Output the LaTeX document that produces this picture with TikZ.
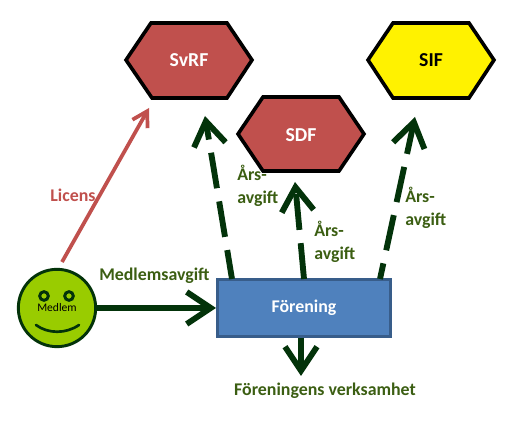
\documentclass[tikz,border=0pt]{standalone}
\usepackage{fontspec}
\setmainfont{Carlito}
\usetikzlibrary{arrows.meta}
\definecolor{arrowgreen}{HTML}{03330A}
\definecolor{labelgreen}{HTML}{3B5E12}
\definecolor{hexred}{HTML}{C0504D}
\definecolor{boxblue}{HTML}{4F81BD}
\definecolor{boxedge}{HTML}{385D8A}
\definecolor{face}{HTML}{99CC00}
\tikzset{
  x=0.75pt,y=-0.75pt,
  hexa/.style={draw=black,line width=2.7pt,line join=miter},
  hexlabel/.style={font=\bfseries\fontsize{14.8}{16}\selectfont,text=white},
  flow/.style={draw=arrowgreen,line width=4.4pt,-{Straight Barb[length=18pt,width=24pt,line width=4.4pt]}},
  due/.style={flow,dash pattern=on 27pt off 10pt},
  lab/.style={font=\bfseries\fontsize{13.4}{17}\selectfont,text=labelgreen,align=left,inner sep=0pt},
}
\begin{document}
\begin{tikzpicture}
\useasboundingbox (0,0) rectangle (522,427);
% hexagons
\draw[hexa,fill=hexred] (126,60) -- (151,23) -- (227,23) -- (252,60) -- (227,98) -- (152,98) -- cycle;
\draw[hexa,fill=hexred] (238,134) -- (263,97) -- (339,97) -- (364,134) -- (339,171) -- (263,171) -- cycle;
\draw[hexa,fill=yellow] (368,60) -- (393,23) -- (469,23) -- (494,60) -- (469,98) -- (393,98) -- cycle;
\node[hexlabel] (svrf) at (189,60) {SvRF};
\node[hexlabel] (sdf) at (301,135) {SDF};
\node[hexlabel,text=black] (sif) at (431,60) {SIF};
% box
\node[draw=boxedge,line width=1.9pt,fill=boxblue,minimum width=130pt,minimum height=42.5pt,inner sep=0pt,
  font=\bfseries\fontsize{13.4}{15}\selectfont,text=white] (forening) at (304,308) {Förening};
% face
\node[circle,draw=arrowgreen,line width=2.2pt,fill=face,minimum size=58pt,inner sep=0pt,
  font=\fontsize{8.7}{10}\selectfont,text=black] (medlem) at (57,308) {Medlem};
\node[circle,draw=arrowgreen,line width=2.2pt,minimum size=6.5pt,inner sep=0pt] (eyeL) at (44,296) {};
\node[circle,draw=arrowgreen,line width=2.2pt,minimum size=6.5pt,inner sep=0pt] (eyeR) at (69,296) {};
\draw[arrowgreen,line width=2pt,line cap=round] (36,325) .. controls (48,334) and (66,334) .. (79,325);
% free ends
\coordinate (lic0) at (62,262);
\coordinate (lic1) at (149,108);
\coordinate (a0) at (232,279);
\coordinate (a1) at (205,116);
\coordinate (b0) at (304,279);
\coordinate (b1) at (295,182);
\coordinate (c0) at (380,279);
\coordinate (c1) at (415,117);
\coordinate (m1) at (216,308);
\coordinate (d0) at (301,338);
\coordinate (d1) at (301,376);
% connectors
\draw[hexred,line width=2.8pt,-{Straight Barb[length=11pt,width=13pt,line width=2.8pt]}] (lic0) -- (lic1);
\draw[due,dash phase=5pt] (a0) -- (a1);
\draw[due] (b0) -- (b1);
\draw[due,dash phase=15pt] (c0) -- (c1);
\draw[flow] (medlem.east) -- (m1);
\draw[flow] (d0) -- (d1);
% labels
\node[font=\bfseries\fontsize{13.4}{15}\selectfont,text=hexred,inner sep=0pt] (licens) at (73,195) {Licens};
\node[lab,anchor=west] (medavg) at (99,276) {Medlemsavgift};
\node[lab,anchor=north west] (ars1) at (237,165) {Års-\\avgift};
\node[lab,anchor=north west] (ars2) at (314,221) {Års-\\avgift};
\node[lab,anchor=north west] (ars3) at (405,187) {Års-\\avgift};
\node[lab,anchor=center] (verks) at (325,391) {Föreningens verksamhet};
\end{tikzpicture}
\end{document}
